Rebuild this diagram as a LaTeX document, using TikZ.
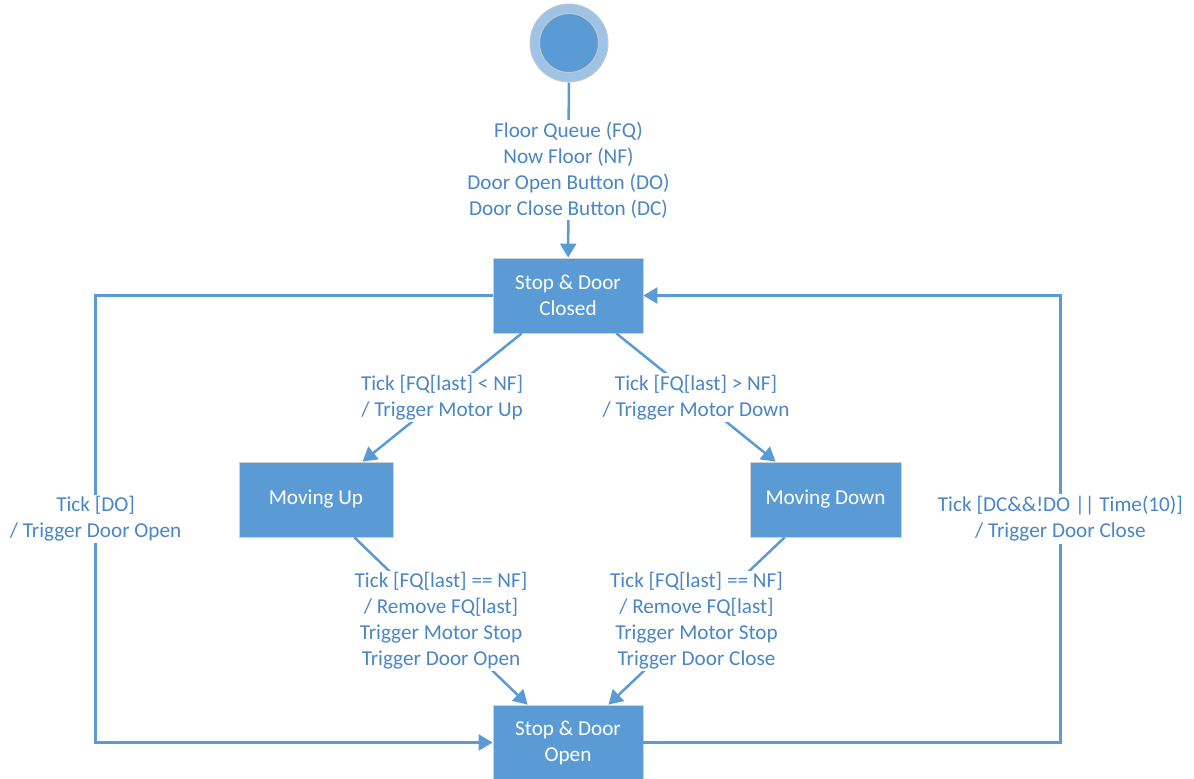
\documentclass[tikz,border=0pt]{standalone}
\usepackage{fontspec}
\setmainfont{Carlito}
\usetikzlibrary{arrows.meta,calc}
\definecolor{boxblue}{HTML}{5B9BD5}
\definecolor{ringblue}{HTML}{9DC3E6}
\definecolor{txtblue}{HTML}{4A86C6}

\begin{document}
\begin{tikzpicture}[x=0.5pt,y=-0.5pt,
	state/.style={draw=black!18,line width=0.4pt,fill=boxblue,text=white,
		minimum width=75pt,minimum height=37.5pt,align=center,inner sep=0pt},
	flow/.style={draw=boxblue,line width=1.25pt,-{Triangle[length=7pt,width=8pt]}},
	lbl/.style={fill=white,text=txtblue,align=center,inner xsep=2pt,inner ysep=1pt},
	font=\fontsize{10.6}{13}\selectfont]
	\useasboundingbox (0,0) rectangle (1194,778);
	\node[circle,draw=black!22,line width=0.5pt,fill=ringblue,minimum size=39pt,inner sep=0pt] (init) at (569,43) {};
	\node[circle,draw=black!22,line width=0.5pt,fill=boxblue,minimum size=29.5pt,inner sep=0pt] (initcore) at (init) {};
	\node[state] (closed) at (568,295.5) {Stop \& Door\\Closed};
	\node[state,minimum width=77pt] (up) at (316,499.5) {Moving Up};
	\node[state,minimum width=75.5pt] (down) at (825.5,499.5) {Moving Down};
	\node[state] (open) at (568,742.5) {Stop \& Door\\Open};
	\draw[flow] (init) -- node[lbl]{Floor Queue (FQ)\\Now Floor (NF)\\Door Open Button (DO)\\Door Close Button (DC)} (closed);
	\draw[flow] ($(closed.south west)+(29,0)$) -- node[lbl]{Tick [FQ[last] < NF]\\/ Trigger Motor Up} ($(up.north west)+(124,0)$);
	\draw[flow] ($(closed.south east)+(-27,0)$) -- node[lbl]{Tick [FQ[last] > NF]\\/ Trigger Motor Down} ($(down.north west)+(26,0)$);
	\draw[flow] ($(up.south east)+(-39,0)$) -- node[lbl]{Tick [FQ[last] == NF]\\/ Remove FQ[last]\\Trigger Motor Stop\\Trigger Door Open} ($(open.north west)+(35,0)$);
	\draw[flow] ($(down.south west)+(35,0)$) -- node[lbl]{Tick [FQ[last] == NF]\\/ Remove FQ[last]\\Trigger Motor Stop\\Trigger Door Close} ($(open.north east)+(-35,0)$);
	\draw[flow] (closed.west) -- ++(-397,0) |- node[pos=0.25,lbl]{Tick [DO]\\/ Trigger Door Open} (open.west);
	\draw[flow] (open.east) -- ++(417,0) |- node[pos=0.25,lbl]{Tick [DC\&\&!DO || Time(10)]\\/ Trigger Door Close} (closed.east);
\end{tikzpicture}
\end{document}
